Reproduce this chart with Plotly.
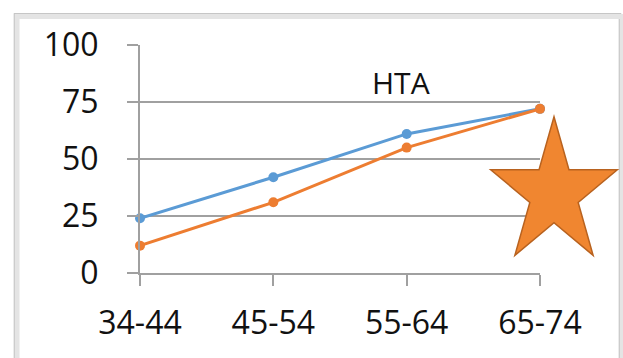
import math
import plotly.graph_objects as go

categories = ["34-44", "45-54", "55-64", "65-74"]
series_blue = [24, 42, 61, 72]
series_orange = [12, 31, 55, 72]
y_ticks = [0, 25, 50, 75, 100]
annotation_text = "HTA"

W, H = 623, 358
L, R, T, B = 140, 540, 45, 272.7  # plot area in pixels

def px2paper(px, py):
    return (px - L) / (R - L), (B - py) / (B - T)

FONT = "Open Sans, Lato, sans-serif"
GRID = "#a0a0a0"

fig = go.Figure()
fig.add_trace(go.Scatter(x=categories, y=series_blue, mode="lines+markers",
                         line=dict(color="#5B9BD5", width=3),
                         marker=dict(size=10, color="#5B9BD5"), cliponaxis=False))
fig.add_trace(go.Scatter(x=categories, y=series_orange, mode="lines+markers",
                         line=dict(color="#ED7D31", width=3),
                         marker=dict(size=10, color="#ED7D31"), cliponaxis=False))

# star decoration
cx, cy, Ro, sx = 554, 193.2, 76.5, 0.87
ri = Ro * 0.382
pts = []
for k in range(10):
    ang = math.radians(-90 + 36 * k)
    rad = Ro if k % 2 == 0 else ri
    pts.append(px2paper(cx + sx * rad * math.cos(ang), cy + rad * math.sin(ang)))
path = "M " + " L ".join(f"{x:.4f},{y:.4f}" for x, y in pts) + " Z"

shapes = [
    dict(type="path", path=path, xref="paper", yref="paper",
         fillcolor="#F08630", line=dict(color="#B8621F", width=1.5), layer="above"),
]
# outer frame with soft shadow
for off, col, wd in [(2, "#e4e4e4", 5), (0, "#b4b4b4", 2.5)]:
    x0, y1 = px2paper(15 + off, 14.5 + off)
    x1, y0 = px2paper(620 + off, 380)
    shapes.insert(0, dict(type="rect", xref="paper", yref="paper", x0=x0, x1=x1, y0=y0, y1=y1,
                          line=dict(color=col, width=wd), fillcolor="rgba(0,0,0,0)", layer="below"))

ax, ay = px2paper(401, 82.5)
fig.update_layout(
    width=W, height=H,
    margin=dict(l=L, r=W - R, t=T, b=H - B, autoexpand=False),
    paper_bgcolor="white", plot_bgcolor="white",
    showlegend=False,
    shapes=shapes,
    annotations=[dict(text=annotation_text, x=ax, y=ay, xref="paper", yref="paper",
                      showarrow=False, font=dict(family=FONT, size=30, color="#111111", weight=500),
                      xanchor="center", yanchor="middle")],
    xaxis=dict(type="category", range=[0, 3], showgrid=False, zeroline=False,
               showline=True, linecolor=GRID, linewidth=2,
               ticks="outside", ticklen=11, tickwidth=2, tickcolor=GRID,
               tickfont=dict(family=FONT, size=32, color="#111111", weight=500),
               ticklabelstandoff=10),
    yaxis=dict(range=[0, 100], tickvals=y_ticks, showgrid=True, gridcolor=GRID, gridwidth=2,
               zeroline=False, showline=True, linecolor=GRID, linewidth=2,
               ticks="outside", ticklen=11, tickwidth=2, tickcolor=GRID,
               tickfont=dict(family=FONT, size=32, color="#111111", weight=500),
               ticklabelstandoff=22),
)
fig.write_html("out.html")
